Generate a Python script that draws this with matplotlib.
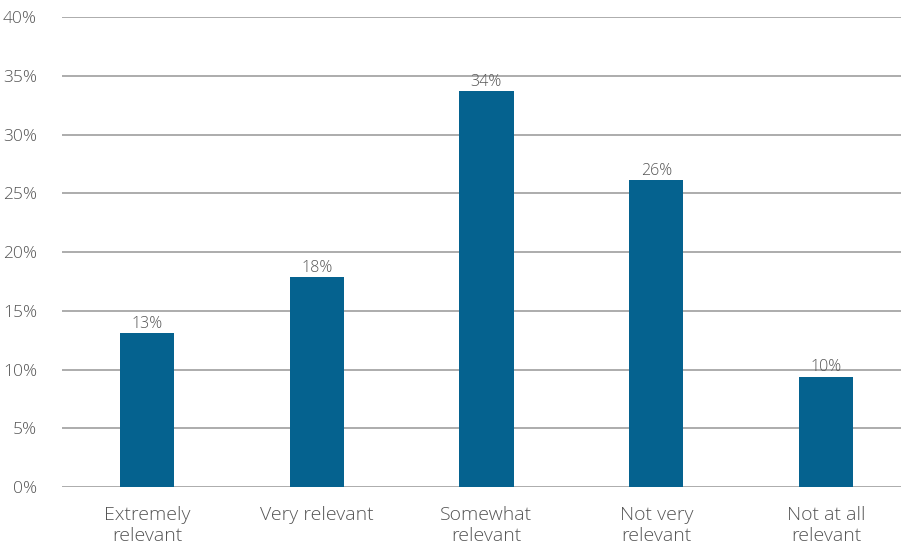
import matplotlib
matplotlib.use("Agg")
import matplotlib.pyplot as plt
from matplotlib.ticker import FuncFormatter

categories = ["Extremely\nrelevant", "Very relevant", "Somewhat\nrelevant", "Not very\nrelevant", "Not at all\nrelevant"]
values = [13.1, 17.9, 33.7, 26.1, 9.4]
value_labels = ["13%", "18%", "34%", "26%", "10%"]
y_ticks = [0, 5, 10, 15, 20, 25, 30, 35, 40]

bar_color = "#05628f"
text_color = "#555555"
grid_color = "#a6a6a6"

plt.rcParams['font.family'] = ['Open Sans', 'DejaVu Sans']

fig = plt.figure(figsize=(9.01, 5.45), dpi=100)
# plot area runs a little past the right edge of the figure
ax = fig.add_axes([0.0688, 0.1064, 0.9423, 0.8624])

x = range(len(categories))
bars = ax.bar(x, values, width=0.32, color=bar_color, zorder=3)

for bar, lab in zip(bars, value_labels):
    ax.text(bar.get_x() + bar.get_width() / 2, bar.get_height() + 0.1, lab,
            ha="center", va="bottom", fontsize=11.5, color=text_color,
            fontweight="light", zorder=4)

ax.set_xlim(-0.5, len(categories) - 0.5)
ax.set_ylim(0, 40)
ax.set_yticks(y_ticks)
ax.yaxis.set_major_formatter(FuncFormatter(lambda v, p: f"{v:.0f}%"))
ax.set_xticks(list(x))
ax.set_xticklabels(categories, fontsize=14, color=text_color, fontweight="light",
                   linespacing=1.2)
ax.tick_params(axis="y", labelsize=12.5, labelcolor=text_color, length=0, pad=18)
ax.tick_params(axis="x", length=0, pad=14)
for lab in ax.get_yticklabels():
    lab.set_fontweight("light")

ax.grid(axis="y", color=grid_color, linewidth=1.3, zorder=0)
for s in ax.spines.values():
    s.set_visible(False)

fig.savefig("out.png", dpi=100)
